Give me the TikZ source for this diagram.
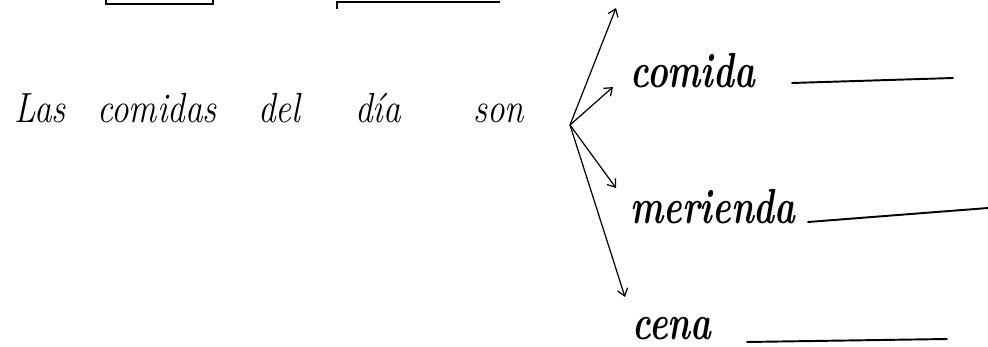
\documentclass[tikz,border=0pt]{standalone}
\usepackage{tikz}
\usetikzlibrary{positioning,arrows.meta}

\newcommand{\tall}[2]{\scalebox{1}[#1]{#2}}

\begin{document}
\begin{tikzpicture}[
    x=0.02cm, y=-0.02cm,
    word/.style={anchor=base west, inner sep=0pt, font=\fontsize{20}{24}\selectfont\itshape},
    meal/.style={anchor=base west, inner sep=0pt, font=\fontsize{20}{24}\selectfont\bfseries\itshape},
    blank/.style={line width=1.1pt, line cap=round},
    arrow/.style={-{Straight Barb[length=4pt,width=6pt]}, line width=0.7pt}
]
\useasboundingbox (0,0) rectangle (988,347);

% restos de las casillas de arriba
\draw[line width=1pt] (106,0) |- (213,4) -- (213,0);
\draw[line width=1.2pt] (337,9) |- (500,2);

% frase
\node[word] (las) at (14,123) {\tall{1.2}{Las}};
\node[word] (comidas) at (97,123) {\tall{1.2}{comidas}};
\node[word] (del) at (258,123) {\tall{1.2}{del}};
\node[word] (dia) at (355,123) {\tall{1.2}{día}};
\node[word] (son) at (473,123) {\tall{1.2}{son}};

% comidas del día
\node[meal] (comida) at (630,88) {\tall{1.4}{comida}};
\node[meal] (merienda) at (630,224) {\tall{1.4}{merienda}};
\node[meal] (cena) at (632,340) {\tall{1.4}{cena}};

% puntos de las flechas
\coordinate (fork) at (570,125);
\coordinate (up) at (616,8);
\coordinate (toComida) at (613,87);
\coordinate (toMerienda) at (616,188);
\coordinate (toCena) at (625,297);

% flechas
\draw[arrow] (fork) -- (up);
\draw[arrow] (fork) -- (toComida);
\draw[arrow] (fork) -- (toMerienda);
\draw[arrow] (fork) -- (toCena);

% rayas para escribir
\draw[blank] (792,83) -- (953,78);
\draw[blank] (808,222) -- (988,208);
\draw[blank] (747,342) -- (947,339);

\end{tikzpicture}
\end{document}
